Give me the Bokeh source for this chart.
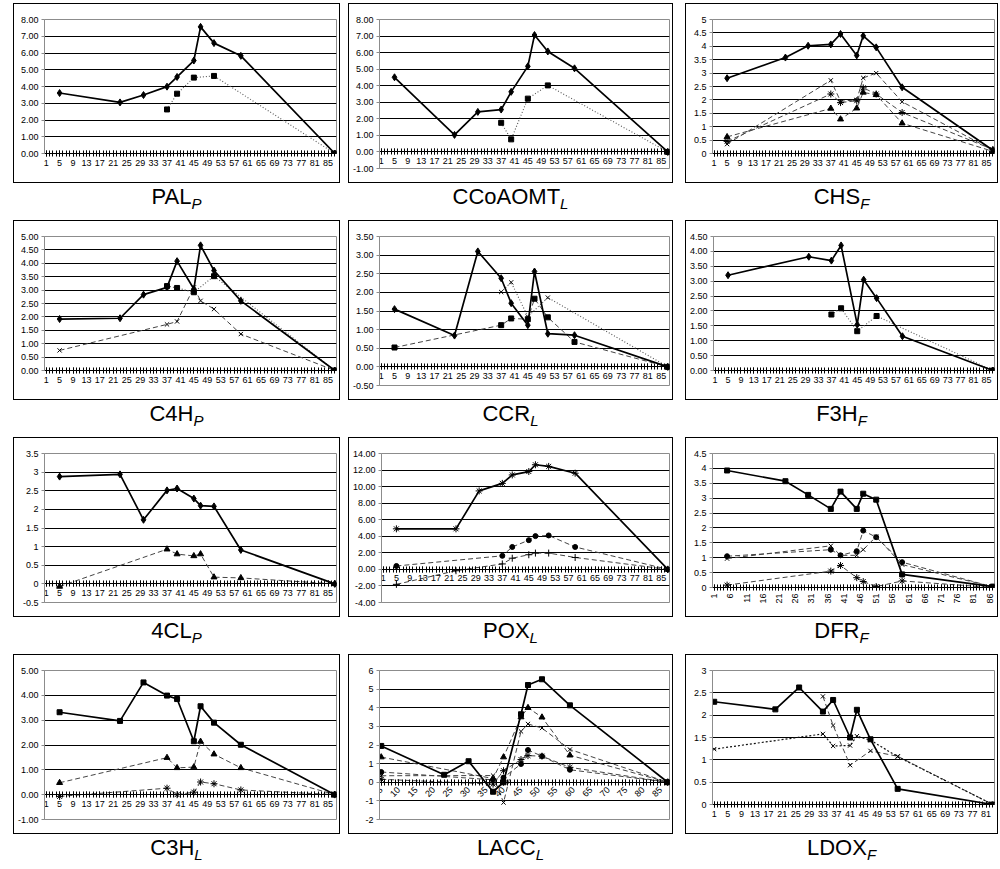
import math
from bokeh.plotting import figure
from bokeh.layouts import row, column, Spacer
from bokeh.models import (FixedTicker, Div, CustomJSTickFormatter, PrintfTickFormatter,
                          Range1d, AllLabels)
from bokeh.embed import file_html
from bokeh.resources import INLINE

# ---------------- x categories (sampling days) ----------------
DAYS = [5, 23, 30, 37, 40, 45, 47, 51, 59, 87]
DAYS_F3H = [5, 30, 37, 40, 45, 47, 51, 59, 87]
DAYS_LATE = [37, 40, 45, 51, 87]
DAYS_DASH = [5, 37, 40, 45, 47, 51, 59, 87]
DAYS_POX_PLUS = [5, 23, 37, 40, 45, 47, 51, 59, 87]
DAYS_LDOX = [1, 19, 26, 33, 36, 41, 43, 47, 55, 83]
DAYS_LDOX_B = [33, 36, 41, 47, 55, 83]
DAYS_LDOX_C = [1, 33, 36, 41, 43, 47, 55, 83]

# ---------------- x tick labels ----------------
XLAB_4 = [1, 5, 9, 13, 17, 21, 25, 29, 33, 37, 41, 45, 49, 53, 57, 61, 65, 69, 73, 77, 81, 85]
XLAB_DFR = [1, 6, 11, 16, 21, 26, 31, 36, 41, 46, 51, 56, 61, 66, 71, 76, 81, 86]
XLAB_LACC = [5, 10, 15, 20, 25, 30, 35, 40, 45, 50, 55, 60, 65, 70, 75, 80, 85]
XLAB_LDOX = [1, 5, 9, 13, 17, 21, 25, 29, 33, 37, 41, 45, 49, 53, 57, 61, 65, 69, 73, 77, 81]

# ---------------- y tick values ----------------
YT_0_8 = [0, 1, 2, 3, 4, 5, 6, 7, 8]
YT_M1_8 = [-1, 0, 1, 2, 3, 4, 5, 6, 7, 8]
YT_0_5 = [0, 0.5, 1, 1.5, 2, 2.5, 3, 3.5, 4, 4.5, 5]
YT_M05_35 = [-0.5, 0, 0.5, 1, 1.5, 2, 2.5, 3, 3.5]
YT_0_45 = [0, 0.5, 1, 1.5, 2, 2.5, 3, 3.5, 4, 4.5]
YT_POX = [-4, -2, 0, 2, 4, 6, 8, 10, 12, 14]
YT_M1_5 = [-1, 0, 1, 2, 3, 4, 5]
YT_M2_6 = [-2, -1, 0, 1, 2, 3, 4, 5, 6]
YT_0_3 = [0, 0.5, 1, 1.5, 2, 2.5, 3]

# ---------------- panel titles ----------------
TITLES = ["PAL", "CCoAOMT", "CHS", "C4H", "CCR", "F3H", "4CL", "POX", "DFR", "C3H", "LACC", "LDOX"]
SUBS = ["P", "L", "F", "P", "L", "F", "P", "L", "F", "L", "L", "F"]

# ---------------- series values ----------------
PAL_A = [3.61, 3.05, 3.49, 3.99, 4.57, 5.55, 7.56, 6.59, 5.83, 0.0]
PAL_B = [2.63, 3.57, 4.53, 4.63, 0.0]

CCO_A = [4.51, 1.03, 2.42, 2.56, 3.63, 5.17, 7.06, 6.07, 5.05, 0.0]
CCO_B = [1.76, 0.76, 3.22, 4.02, 0.0]

CHS_A = [2.81, 3.58, 4.02, 4.07, 4.46, 3.66, 4.39, 3.96, 2.47, 0.12]
CHS_B = [0.35, 2.73, 1.95, 2.0, 2.82, 3.0, 1.93, 0.12]
CHS_C = [0.45, 2.22, 1.9, 1.97, 2.45, 2.22, 1.53, 0.15]
CHS_D = [0.62, 1.68, 1.28, 1.69, 2.28, 2.19, 1.13, 0.08]

C4H_A = [1.92, 1.95, 2.83, 3.10, 4.08, 3.04, 4.67, 3.73, 2.60, 0.0]
C4H_B = [3.15, 3.08, 2.92, 3.52, 0.0]
C4H_C = [0.75, 1.72, 1.83, 3.1, 2.6, 2.29, 1.36, 0.0]

CCR_A = [1.55, 0.84, 3.10, 2.38, 1.71, 1.12, 2.56, 0.89, 0.85, 0.0]
CCR_B = [0.52, 1.12, 1.30, 1.28, 1.83, 1.33, 0.67, 0.0]
CCR_C = [2.01, 2.27, 1.35, 1.86, 0.0]

F3H_A = [3.20, 3.82, 3.69, 4.20, 1.54, 3.05, 2.43, 1.15, 0.0]
F3H_B = [1.88, 2.09, 1.32, 1.83, 0.0]

CL4_A = [2.88, 2.94, 1.72, 2.51, 2.56, 2.29, 2.10, 2.08, 0.91, 0.0]
CL4_B = [-0.07, 0.93, 0.80, 0.75, 0.80, 0.18, 0.16, 0.0]

POX_A = [4.9, 4.9, 9.48, 10.39, 11.41, 11.82, 12.64, 12.44, 11.62, 0.0]
POX_B = [0.41, 1.64, 2.71, 3.53, 4.02, 4.10, 2.71, 0.0]
POX_C = [-1.81, -0.16, 0.66, 1.35, 1.77, 1.97, 1.97, 1.44, 0.0]

DFR_A = [3.93, 3.57, 3.11, 2.64, 3.22, 2.64, 3.15, 2.95, 0.44, 0.03]
DFR_B = [1.05, 1.27, 1.08, 1.22, 1.91, 1.69, 0.85, 0.02]
DFR_C = [0.97, 1.40, 1.08, 1.08, 1.27, 1.71, 0.77, 0.02]
DFR_D = [0.08, 0.55, 0.74, 0.33, 0.20, 0.03, 0.22, 0.0]

C3H_A = [3.32, 2.97, 4.52, 3.99, 3.85, 2.15, 3.56, 2.90, 2.01, 0.0]
C3H_B = [0.48, 1.49, 1.08, 1.11, 2.14, 1.63, 1.08, 0.0]
C3H_C = [-0.07, 0.26, 0.0, 0.10, 0.51, 0.44, 0.19, 0.0]

LACC_A = [1.95, 0.40, 1.13, -0.51, 0.0, 3.65, 5.22, 5.53, 4.13, 0.0]
LACC_B = [1.35, 0.2, 1.35, 3.5, 4.0, 3.49, 1.45, 0.0]
LACC_C = [0.35, 0.36, -1.09, 2.73, 3.13, 2.91, 1.76, 0.0]
LACC_D = [0.55, 0.13, 0.25, 0.98, 1.73, 1.40, 0.67, 0.0]
LACC_E = [0.16, -0.1, 0.62, 1.22, 1.43, 1.40, 0.80, 0.0]

LDOX_A = [2.30, 2.13, 2.62, 2.08, 2.34, 1.50, 2.12, 1.46, 0.35, 0.0]
LDOX_B = [2.42, 1.77, 0.88, 1.20, 1.08, 0.0]
LDOX_C = [1.24, 1.58, 1.31, 1.32, 1.53, 1.44, 1.07, 0.0]

# ---------------- styles ----------------
LINE_STYLES = {
    "solid": dict(line_color="black", line_width=1.7, line_dash="solid"),
    "dotted": dict(line_color="#555555", line_width=1.1, line_dash="1 2"),
    "dotblack": dict(line_color="#111111", line_width=1.2, line_dash="2 2"),
    "dashed": dict(line_color="#444444", line_width=1.0, line_dash="5 3"),
}
MARKER_SIZE = {"diamond": 7, "square": 5, "triangle": 6, "x": 6, "asterisk": 7,
               "circle": 5, "cross": 7}

PANELS = [
    dict(xr=(0.5, 87.5), yr=(0, 8), yt=YT_0_8, fmt="2", xl=XLAB_4, rot=0,
         series=[(DAYS, PAL_A, "solid", "diamond"), (DAYS_LATE, PAL_B, "dotted", "square")]),
    dict(xr=(0.5, 87.5), yr=(-1, 8), yt=YT_M1_8, fmt="2", xl=XLAB_4, rot=0,
         series=[(DAYS, CCO_A, "solid", "diamond"), (DAYS_LATE, CCO_B, "dotted", "square")]),
    dict(xr=(0.5, 87.5), yr=(0, 5), yt=YT_0_5, fmt="g", xl=XLAB_4, rot=0,
         series=[(DAYS_DASH, CHS_B, "dashed", "x"), (DAYS_DASH, CHS_C, "dashed", "asterisk"),
                 (DAYS_DASH, CHS_D, "dashed", "triangle"), (DAYS, CHS_A, "solid", "diamond")]),
    dict(xr=(0.5, 87.5), yr=(0, 5), yt=YT_0_5, fmt="2", xl=XLAB_4, rot=0,
         series=[(DAYS_DASH, C4H_C, "dashed", "x"), (DAYS_LATE, C4H_B, "dotted", "square"),
                 (DAYS, C4H_A, "solid", "diamond")]),
    dict(xr=(0.5, 87.5), yr=(-0.5, 3.5), yt=YT_M05_35, fmt="2", xl=XLAB_4, rot=0,
         series=[(DAYS_DASH, CCR_B, "dashed", "square"), (DAYS_LATE, CCR_C, "dotted", "x"),
                 (DAYS, CCR_A, "solid", "diamond")]),
    dict(xr=(0.5, 87.5), yr=(0, 4.5), yt=YT_0_45, fmt="2", xl=XLAB_4, rot=0,
         series=[(DAYS_LATE, F3H_B, "dotted", "square"), (DAYS_F3H, F3H_A, "solid", "diamond")]),
    dict(xr=(0.5, 87.5), yr=(-0.5, 3.5), yt=YT_M05_35, fmt="g", xl=XLAB_4, rot=0,
         series=[(DAYS_DASH, CL4_B, "dashed", "triangle"), (DAYS, CL4_A, "solid", "diamond")]),
    dict(xr=(0.5, 87.5), yr=(-4, 14), yt=YT_POX, fmt="2", xl=XLAB_4, rot=0,
         series=[(DAYS_DASH, POX_B, "dashed", "circle"), (DAYS_POX_PLUS, POX_C, "dashed", "cross"),
                 (DAYS, POX_A, "solid", "asterisk")]),
    dict(xr=(0.5, 87.5), yr=(0, 4.5), yt=YT_0_45, fmt="g", xl=XLAB_DFR, rot=math.pi / 2,
         series=[(DAYS_DASH, DFR_B, "dashed", "circle"), (DAYS_DASH, DFR_C, "dashed", "x"),
                 (DAYS_DASH, DFR_D, "dashed", "asterisk"), (DAYS, DFR_A, "solid", "square")]),
    dict(xr=(0.5, 87.5), yr=(-1, 5), yt=YT_M1_5, fmt="2", xl=XLAB_4, rot=0,
         series=[(DAYS_DASH, C3H_B, "dashed", "triangle"), (DAYS_DASH, C3H_C, "dashed", "asterisk"),
                 (DAYS, C3H_A, "solid", "square")]),
    dict(xr=(4.5, 87.5), yr=(-2, 6), yt=YT_M2_6, fmt="g", xl=XLAB_LACC, rot=math.pi / 4,
         series=[(DAYS_DASH, LACC_B, "dashed", "triangle"), (DAYS_DASH, LACC_C, "dashed", "x"),
                 (DAYS_DASH, LACC_D, "dashed", "circle"), (DAYS_DASH, LACC_E, "dashed", "asterisk"),
                 (DAYS, LACC_A, "solid", "square")]),
    dict(xr=(0.5, 83.5), yr=(0, 3), yt=YT_0_3, fmt="g", xl=XLAB_LDOX, rot=0,
         series=[(DAYS_LDOX_B, LDOX_B, "dashed", "x"), (DAYS_LDOX_C, LDOX_C, "dotblack", "x"),
                 (DAYS_LDOX, LDOX_A, "solid", "square")]),
]

COL_W = [327, 325, 313]
COL_LEFT_BORDER = [30, 30, 26]
BOX_H = 180
TITLE_H = [37, 37, 37, 34]
FONT = "Liberation Sans"


def make_panel(spec, width, left_border):
    ymin, ymax = spec["yr"]
    x0, x1 = spec["xr"]
    bottom = 31 if ymin == 0 else 16
    p = figure(width=width, height=BOX_H, output_backend="svg", toolbar_location=None,
               x_range=Range1d(x0, x1), y_range=Range1d(ymin, ymax),
               min_border_left=left_border, min_border_right=5, min_border_top=15,
               min_border_bottom=bottom)
    p.background_fill_color = "white"
    p.border_fill_color = "white"
    p.outline_line_color = "#8c8c8c"
    p.outline_line_width = 1
    p.xgrid.visible = False
    p.ygrid.grid_line_color = "black"
    p.ygrid.grid_line_width = 1

    # y axis
    p.yaxis.ticker = FixedTicker(ticks=spec["yt"])
    if spec["fmt"] == "2":
        p.yaxis.formatter = PrintfTickFormatter(format="%.2f")
    else:
        p.yaxis.formatter = CustomJSTickFormatter(code="return String(Math.round(tick*100)/100)")
    p.yaxis.axis_line_color = "#8c8c8c"
    p.yaxis.major_tick_out = 3
    p.yaxis.major_tick_in = 0
    p.yaxis.major_tick_line_color = "#8c8c8c"
    p.yaxis.minor_tick_line_color = None
    p.yaxis.major_label_text_font = FONT
    p.yaxis.major_label_text_font_size = "9px"
    p.yaxis.major_label_text_color = "black"
    p.yaxis.major_label_standoff = 3

    # x axis crossing at y = 0
    lo = int(math.ceil(x0))
    hi = int(math.floor(x1))
    p.xaxis.ticker = FixedTicker(ticks=spec["xl"], minor_ticks=list(range(lo, hi + 1)))
    if ymin < 0:
        p.xaxis.fixed_location = 0
    p.xaxis.major_label_policy = AllLabels()
    p.xaxis.axis_line_color = "black"
    p.xaxis.axis_line_width = 1
    p.xaxis.major_tick_in = 3
    p.xaxis.major_tick_out = 3
    p.xaxis.minor_tick_in = 3
    p.xaxis.minor_tick_out = 3
    p.xaxis.major_tick_line_color = "black"
    p.xaxis.minor_tick_line_color = "black"
    p.xaxis.major_label_text_font = FONT
    p.xaxis.major_label_text_font_size = "9px"
    p.xaxis.major_label_text_color = "black"
    p.xaxis.major_label_standoff = 3
    if spec["rot"]:
        p.xaxis.major_label_orientation = spec["rot"]

    for xs, ys, style, marker in spec["series"]:
        p.line(xs, ys, **LINE_STYLES[style])
        p.scatter(xs, ys, marker=marker, size=MARKER_SIZE[marker],
                  fill_color="black", line_color="black", line_width=1)

    p.styles = {"border": "1px solid black", "box-sizing": "border-box"}
    return p


def make_title(main, sub, width, height):
    html = ('<div style="width:%dpx;text-align:center;font-family:\'Liberation Sans\',Arial,sans-serif;'
            'font-size:22px;line-height:24px;color:#000;margin-top:2px">%s'
            '<span style="font-size:15px;font-style:italic;position:relative;top:5px">%s</span></div>'
            % (width, main, sub))
    return Div(text=html, width=width, height=height, margin=(0, 0, 0, 0))


rows = [Spacer(width=10, height=3, margin=(0, 0, 0, 0))]
for r in range(4):
    cells = [Spacer(width=13, height=BOX_H + TITLE_H[r], margin=(0, 0, 0, 0))]
    for c in range(3):
        i = r * 3 + c
        w = COL_W[c]
        fig = make_panel(PANELS[i], w, COL_LEFT_BORDER[c])
        cells.append(column(fig, make_title(TITLES[i], SUBS[i], w, TITLE_H[r])))
        if c == 0:
            cells.append(Spacer(width=8, height=10, margin=(0, 0, 0, 0)))
        elif c == 1:
            cells.append(Spacer(width=12, height=10, margin=(0, 0, 0, 0)))
    rows.append(row(*cells))

layout = column(*rows)
open("out.html", "w").write(file_html(layout, INLINE))
